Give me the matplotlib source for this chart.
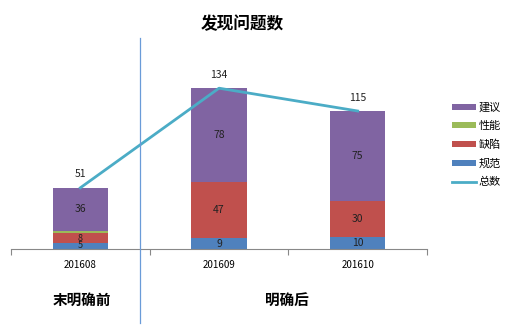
import matplotlib.pyplot as plt
import numpy as np

plt.rcParams['font.family'] = ['Noto Sans CJK SC', 'DejaVu Sans']

months = ['201608', '201609', '201610']
guifan = [5, 9, 10]
quexian = [8, 47, 30]
xingneng = [2, 0, 0]
jianyi = [36, 78, 75]
total = [51, 134, 115]

colors = {'规范': '#4F81BD', '缺陷': '#C0504D', '性能': '#9BBB59', '建议': '#8064A2'}
line_color = '#4BACC6'

fig = plt.figure(figsize=(5.16, 3.36), dpi=100)
ax = fig.add_axes([11 / 516, 87 / 336, 416 / 516, 192 / 336])

x = np.arange(len(months))
w = 0.4
bottom = np.zeros(len(months))
series = [('规范', guifan), ('缺陷', quexian), ('性能', xingneng), ('建议', jianyi)]
handles = {}
for name, vals in series:
    bars = ax.bar(x, vals, w, bottom=bottom, color=colors[name], label=name)
    handles[name] = bars
    for xi, v, b in zip(x, vals, bottom):
        if v >= 5:
            # the first bar's thin segments are crowded, shrink them a bit
            fs = 6.5 if (xi == 0 and v < 10) else 7.5
            ax.text(xi, b + v / 2, str(v), ha='center', va='center', fontsize=fs, color='#222222')
    bottom += np.array(vals)

ln, = ax.plot(x, total, color=line_color, lw=2, label='总数')
for xi, t in zip(x, total):
    ax.text(xi, t + 7, str(t), ha='center', va='bottom', fontsize=7.5, color='#222222')

ax.set_xlim(-0.5, 2.5)
ax.set_ylim(0, 160)
ax.set_yticks([])
for s in ['top', 'right', 'left']:
    ax.spines[s].set_visible(False)
ax.spines['bottom'].set_color('#888888')
ax.set_xticks([-0.5, 0.5, 1.5, 2.5])
ax.set_xticklabels([])
ax.set_xticks(x, minor=True)
ax.set_xticklabels(months, minor=True, fontsize=7)
ax.tick_params(axis='x', which='major', length=4, color='#888888')
ax.tick_params(axis='x', which='minor', length=0, pad=8)

fig.text(242 / 516, 1 - 24 / 336, '发现问题数', ha='center', va='center', fontsize=12, fontweight='bold')
fig.text(82 / 516, 1 - 300 / 336, '末明确前', ha='center', va='center', fontsize=10.5, fontweight='bold')
fig.text(287 / 516, 1 - 300 / 336, '明确后', ha='center', va='center', fontsize=10.5, fontweight='bold')
fig.add_artist(plt.Line2D([140 / 516, 140 / 516], [1 - 38 / 336, 1 - 323 / 336],
                          color='#6A9BD8', lw=0.9, transform=fig.transFigure))

order = ['建议', '性能', '缺陷', '规范']
fig.legend([handles[k] for k in order] + [ln], order + ['总数'],
           loc='center left', bbox_to_anchor=(442 / 516, 1 - 145 / 336),
           frameon=False, fontsize=8, handlelength=2.2, handleheight=0.45,
           labelspacing=0.75, handletextpad=0.2)

fig.savefig('out.png', dpi=100)
